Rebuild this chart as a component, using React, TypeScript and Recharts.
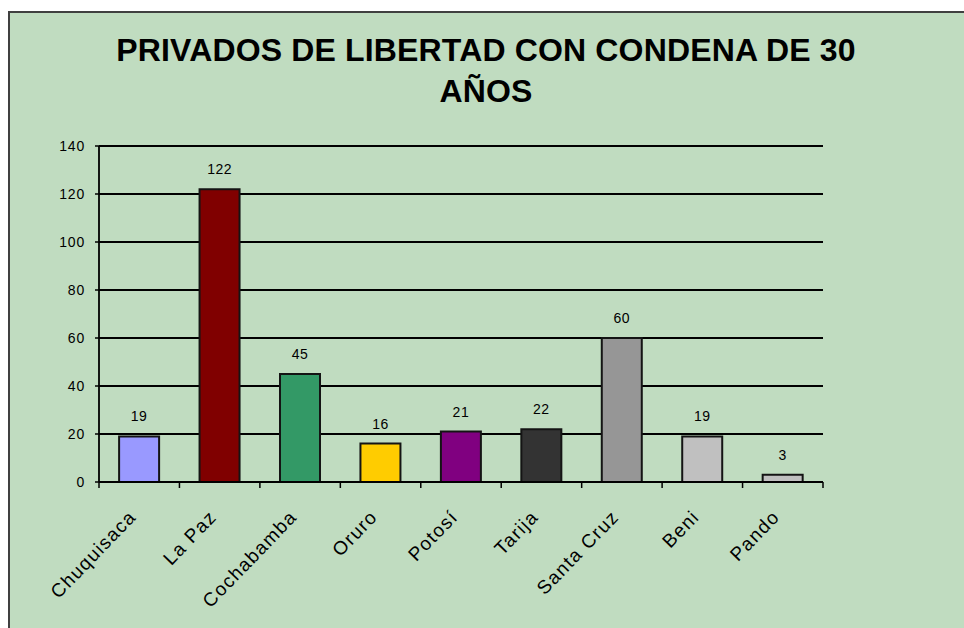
import { BarChart, Bar, XAxis, YAxis, CartesianGrid, Cell, LabelList } from 'recharts';

const departments = ['Chuquisaca', 'La Paz', 'Cochabamba', 'Oruro', 'Potosí', 'Tarija', 'Santa Cruz', 'Beni', 'Pando'];
const prisoners = [19, 122, 45, 16, 21, 22, 60, 19, 3];
const barColors = ['#9999ff', '#800000', '#339966', '#ffcc00', '#800080', '#333333', '#969696', '#c0c0c0', '#c0c0c0'];
const yTicks = [0, 20, 40, 60, 80, 100, 120, 140];

const data = departments.map((name, i) => ({ name, value: prisoners[i] }));

const FONT = '"Liberation Sans", Arial, sans-serif';

// rotated category label plus the tick marks that sit between categories
function CategoryTick(props: any) {
  const { x, y, payload, index } = props;
  const half = payload && payload.offset ? payload.offset : 724 / 18;
  const last = index === departments.length - 1;
  return (
    <g>
      <line x1={x - half} y1={y} x2={x - half} y2={y + 6} stroke="#000" strokeWidth={1.5} />
      {last && <line x1={x + half} y1={y} x2={x + half} y2={y + 6} stroke="#000" strokeWidth={1.5} />}
      <text
        transform={`translate(${x - 2},${y + 36}) rotate(-46)`}
        textAnchor="end"
        fontSize={19}
        letterSpacing={1.3}
        fontFamily={FONT}
        fill="#000"
      >
        {payload.value}
      </text>
    </g>
  );
}

export default function App() {
  return (
    <div style={{ position: 'absolute', left: 0, top: 0, width: 964, height: 628, background: '#fff', overflow: 'hidden' }}>
      <div
        style={{
          position: 'absolute',
          left: 8,
          top: 11,
          width: 1000,
          height: 700,
          background: '#c0dcc0',
          borderLeft: '2px solid #404040',
          borderTop: '2px solid #404040',
        }}
      />
      <div
        style={{
          position: 'absolute',
          left: 0,
          width: 972,
          top: 30,
          textAlign: 'center',
          fontFamily: FONT,
          fontWeight: 'bold',
          fontSize: 32,
          letterSpacing: 0.15,
          lineHeight: '41px',
          color: '#000',
        }}
      >
        PRIVADOS DE LIBERTAD CON CONDENA DE 30
        <br />
        AÑOS
      </div>
      <div style={{ position: 'absolute', left: 0, top: 0 }}>
        <BarChart
          width={964}
          height={628}
          data={data}
          margin={{ top: 146, right: 141, bottom: 0, left: 39 }}
          barCategoryGap="25%"
        >
          <CartesianGrid horizontal vertical={false} stroke="#000" strokeWidth={1.8} strokeOpacity={1} />
          <XAxis
            dataKey="name"
            interval={0}
            tickSize={0}
            tickMargin={0}
            tickLine={false}
            axisLine={{ stroke: '#000', strokeWidth: 1.8 }}
            tick={<CategoryTick />}
            height={146}
          />
          <YAxis
            domain={[0, 140]}
            ticks={yTicks}
            interval={0}
            width={60}
            tickSize={4}
            tickMargin={10}
            axisLine={{ stroke: '#000', strokeWidth: 1.8 }}
            tickLine={{ stroke: '#000', strokeWidth: 1.5 }}
            tick={{ fill: '#000', fontSize: 14, fontFamily: FONT, letterSpacing: 0.8 }}
          />
          <Bar dataKey="value" stroke="#141414" strokeWidth={2} isAnimationActive={false}>
            {data.map((d, i) => (
              <Cell key={d.name} fill={barColors[i]} />
            ))}
            <LabelList dataKey="value" position="top" offset={15} fill="#000" fontSize={14} fontFamily={FONT} letterSpacing={0.5} />
          </Bar>
        </BarChart>
      </div>
    </div>
  );
}
